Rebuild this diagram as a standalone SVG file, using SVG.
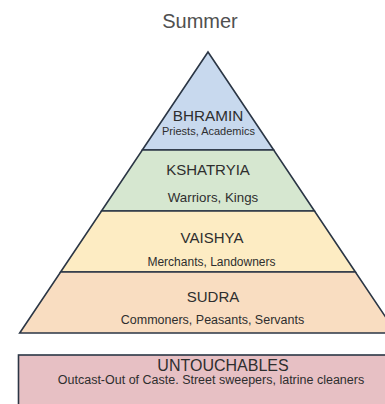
<svg xmlns="http://www.w3.org/2000/svg" width="385" height="404" viewBox="0 0 385 404">
  <style>
    .band { stroke: #2b3645; stroke-width: 1.6; stroke-linejoin: miter; }
    .t { font-family: "Liberation Sans", Arial, sans-serif; fill: #2e2e2e; text-anchor: middle; }
  </style>
  <rect x="0" y="0" width="385" height="404" fill="#ffffff"/>
  <g id="title">
    <text class="t" x="200" y="28" font-size="20" style="fill:#505050">Summer</text>
  </g>
  <g id="bhramin">
    <polygon class="band" points="208,52 273.7,150 142.3,150" fill="#c8d9ee"/>
    <text class="t" x="208" y="121" font-size="15.3">BHRAMIN</text>
    <text class="t" x="208.5" y="135" font-size="11">Priests, Academics</text>
  </g>
  <g id="kshatryia">
    <polygon class="band" points="142.3,150 273.7,150 314.5,211 101.5,211" fill="#d6e7d0"/>
    <text class="t" x="208" y="175" font-size="15">KSHATRYIA</text>
    <text class="t" x="213" y="202" font-size="13.3">Warriors, Kings</text>
  </g>
  <g id="vaishya">
    <polygon class="band" points="101.5,211 314.5,211 355.4,272 60.6,272" fill="#fdecc3"/>
    <text class="t" x="212" y="243" font-size="15">VAISHYA</text>
    <text class="t" x="211.5" y="266" font-size="12">Merchants, Landowners</text>
  </g>
  <g id="sudra">
    <polygon class="band" points="60.6,272 355.4,272 396.3,333 19.7,333" fill="#f9ddc1"/>
    <text class="t" x="213" y="302" font-size="15">SUDRA</text>
    <text class="t" x="212.5" y="324" font-size="12.5">Commoners, Peasants, Servants</text>
  </g>
  <g id="untouchables">
    <rect class="band" x="18.5" y="355" width="380" height="60" fill="#e7c0c4"/>
    <text class="t" x="223" y="371" font-size="16">UNTOUCHABLES</text>
    <text class="t" x="211" y="384" font-size="12.5">Outcast-Out of Caste. Street sweepers, latrine cleaners</text>
  </g>
</svg>
